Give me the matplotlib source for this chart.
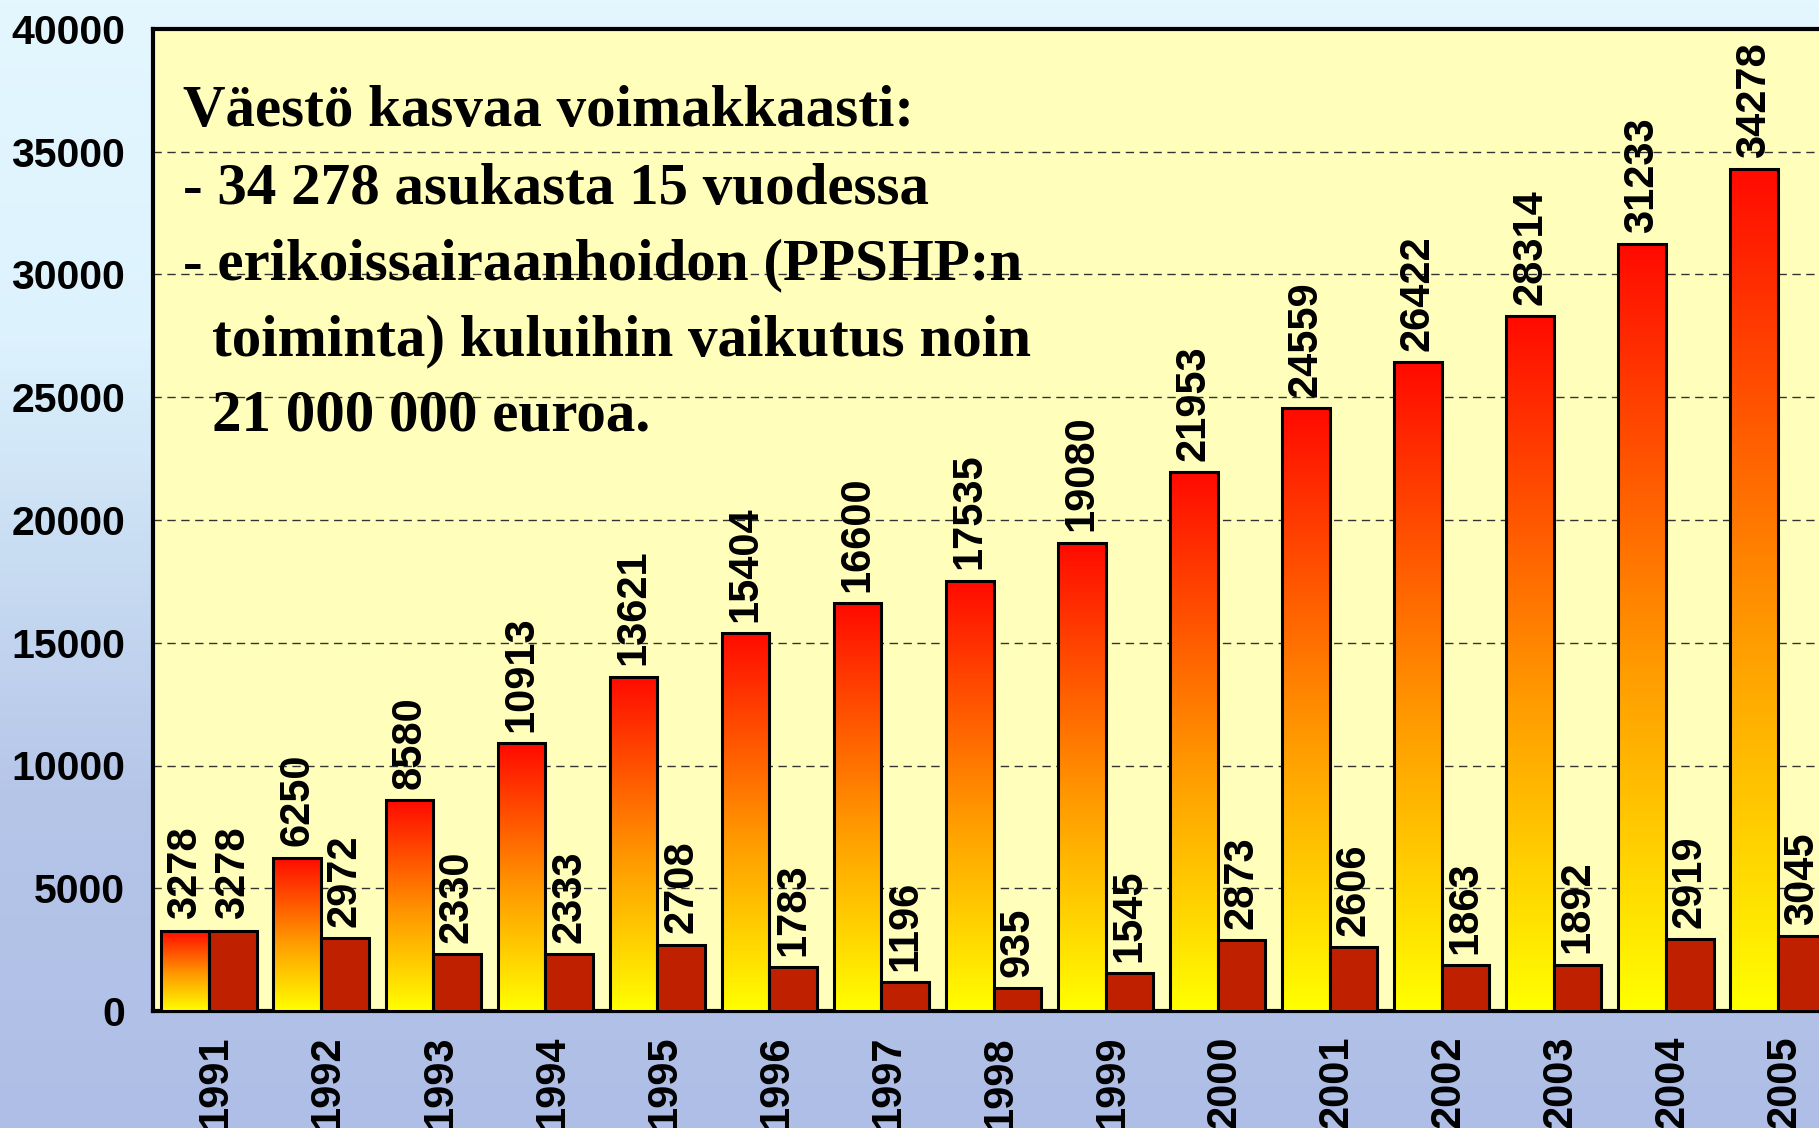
import numpy as np
import matplotlib
matplotlib.use("Agg")
import matplotlib.pyplot as plt
from matplotlib.colors import LinearSegmentedColormap

years = ["1991", "1992", "1993", "1994", "1995", "1996", "1997", "1998",
         "1999", "2000", "2001", "2002", "2003", "2004", "2005"]
population = [3278, 6250, 8580, 10913, 13621, 15404, 16600, 17535,
              19080, 21953, 24559, 26422, 28314, 31233, 34278]
growth = [3278, 2972, 2330, 2333, 2708, 1783, 1196, 935,
          1545, 2873, 2606, 1863, 1892, 2919, 3045]
yticks = [0, 5000, 10000, 15000, 20000, 25000, 30000, 35000, 40000]
text_lines = ["Väestö kasvaa voimakkaasti:",
              "- 34 278 asukasta 15 vuodessa",
              "- erikoissairaanhoidon (PPSHP:n",
              "toiminta) kuluihin vaikutus noin",
              "21 000 000 euroa."]

W, H = 1819, 1128
S = 1819 / 1568
fig = plt.figure(figsize=(W / 100, H / 100), dpi=100)

# background (sky / sea)
bg = fig.add_axes([0, 0, 1, 1], zorder=-10)
bg_cmap = LinearSegmentedColormap.from_list(
    "bg", [(0, "#E4F7FF"), (0.3, "#DCF2FD"), (0.5, "#C8DCF2"),
           (0.7, "#B6C6E9"), (1, "#AEBEE6")])
bg.imshow(np.linspace(0, 1, 256).reshape(-1, 1), cmap=bg_cmap, aspect="auto",
          extent=[0, 1, 0, 1], origin="upper")
bg.set_axis_off()

left = 153 / W
right = 1834 / W
bottom = 1 - 1011 / H
top = 1 - 29 / H
ax = fig.add_axes([left, bottom, right - left, top - bottom])
ax.set_facecolor("#FFFFBB")

x = np.arange(len(years))
bw = 0.425
grad_cmap = LinearSegmentedColormap.from_list(
    "grad", [(0, "#FFFF00"), (0.45, "#FF9A00"), (1, "#FF0A00")])
grad = np.linspace(0, 1, 256).reshape(-1, 1)

bars1 = ax.bar(x - bw / 2, population, bw, facecolor="none",
               edgecolor="black", linewidth=2.2, zorder=4)
for rect in bars1:
    x0 = rect.get_x()
    h = rect.get_height()
    ax.imshow(grad, cmap=grad_cmap, aspect="auto", origin="lower",
              extent=[x0, x0 + rect.get_width(), 0, h], zorder=3)

bars2 = ax.bar(x + bw / 2, growth, bw, facecolor="#BF2000",
               edgecolor="black", linewidth=2.2, zorder=4)

lab_font = dict(family="Liberation Sans", weight="bold", size=30)
for xi, v in zip(x - bw / 2, population):
    ax.annotate(str(v), (xi, v), xytext=(0, 8), textcoords="offset points",
                rotation=90, ha="center", va="bottom", **lab_font, zorder=6)
for xi, v in zip(x + bw / 2, growth):
    ax.annotate(str(v), (xi, v), xytext=(0, 8), textcoords="offset points",
                rotation=90, ha="center", va="bottom", **lab_font, zorder=6,
                annotation_clip=False)

ax.set_xlim(-0.5, len(years) - 0.5)
ax.set_ylim(0, 40000)
ax.set_yticks(yticks)
ax.set_yticklabels([str(t) for t in yticks],
                   **dict(lab_font, size=29.5))
ax.set_xticks(x + 0.06)
ax.set_xticklabels(years, rotation=90, va="top", ha="center", **lab_font)
ax.tick_params(axis="y", length=0, pad=20)
ax.tick_params(axis="x", length=0, pad=18)
ax.yaxis.grid(True, linestyle=(0, (6, 4)), color="#333333", linewidth=1.0,
              zorder=1)
ax.set_axisbelow(True)
for s in ["left", "bottom", "top"]:
    ax.spines[s].set_linewidth(3)
    ax.spines[s].set_color("black")
ax.spines["right"].set_visible(False)

serif = dict(family="Liberation Serif", weight="bold", size=42.5,
             color="black")
baselines = [109, 176, 241, 306, 371]
lefts = [158, 158, 158, 183, 183]
for line, yb, lx in zip(text_lines, baselines, lefts):
    fig.text(lx * S / W, 1 - yb * S / H, line,
             ha="left", va="baseline", **serif, zorder=10)

fig.savefig("out.png", dpi=100)
